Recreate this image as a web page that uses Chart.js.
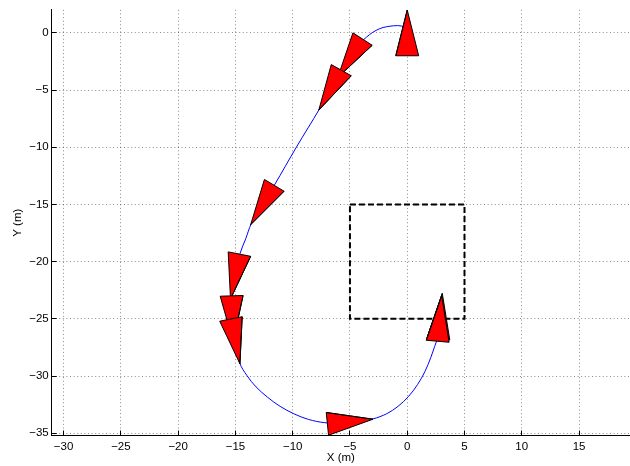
<!DOCTYPE html>
<html>
<head>
<meta charset="utf-8">
<script src="https://cdn.jsdelivr.net/npm/chart.js@4/dist/chart.umd.min.js"></script>
<style>
  html, body { margin: 0; padding: 0; background: #fff; }
  canvas { display: block; }
</style>
</head>
<body>
<canvas id="c" width="630" height="466"></canvas>
<script>
// Vehicle trajectory (m)
const pathX = [-0.10, -0.50, -1.20, -2.40, -3.55, -4.70, -5.76, -6.70, -7.65,
               -9.67, -11.61, -12.70, -13.61, -14.10, -14.60, -15.00, -15.30, -15.40, -15.10,
               -14.61, -14.00, -13.20, -12.20, -11.10, -9.90, -8.60, -7.20, -5.80, -4.40,
               -3.00, -1.80, -0.80, 0.10, 0.90, 1.55, 2.05, 2.40, 2.60];
const pathY = [0.40, 0.60, 0.62, 0.37, -0.36, -1.60, -3.26, -4.90, -6.63,
               -9.98, -13.33, -15.10, -16.67, -18.00, -19.30, -21.20, -23.00, -25.00, -27.00,
               -28.90, -29.95, -30.95, -31.85, -32.65, -33.30, -33.80, -34.08, -34.15, -34.00,
               -33.75, -33.30, -32.65, -31.80, -30.75, -29.60, -28.40, -27.40, -26.85];

// Vehicle poses: rear-centre of each marker (m) and heading (deg)
const poseX = [0.00, -3.90, -5.76, -11.61, -14.65, -15.33, -15.39, -6.97, 2.72, 2.66];
const poseY = [-2.00, -0.54, -3.26, -13.33, -19.34, -22.99, -25.01, -34.18, -26.76, -26.96];
const poseHeading = [90, -122.8, -119.3, -120.9, -101.2, -88.2, -78.7, 5.8, 85.1, 85.0];

// Target zone outline (m)
const zoneX = [-5, 5, 5, -5, -5];
const zoneY = [-15, -15, -25, -25, -15];

// Axis ticks
const xTicks = [-30, -25, -20, -15, -10, -5, 0, 5, 10, 15];
const yTicks = [0, -5, -10, -15, -20, -25, -30, -35];

// Marker shape (m)
const MARKER_LENGTH = 4;
const MARKER_WIDTH = 2;

function markerOutline(x, y, deg) {
  const a = deg * Math.PI / 180;
  const ux = Math.cos(a), uy = Math.sin(a);
  const nx = -uy, ny = ux, h = MARKER_WIDTH / 2;
  const left = { x: x + nx * h, y: y + ny * h };
  const right = { x: x - nx * h, y: y - ny * h };
  const tip = { x: x + ux * MARKER_LENGTH, y: y + uy * MARKER_LENGTH };
  // repeat the first corners so every join is mitred
  return [left, tip, right, left, tip];
}

const font = { family: '"Liberation Sans", Arial, Helvetica, sans-serif', size: 11.5 };
const fmt = v => (v < 0 ? '\u2212' + Math.abs(v) : String(v));

const datasets = [];
datasets.push({
  data: zoneX.map((x, i) => ({ x, y: zoneY[i] })),
  borderColor: '#000', borderWidth: 2, borderDash: [6, 3],
  pointRadius: 0, fill: false, tension: 0, order: 100
});
datasets.push({
  data: pathX.map((x, i) => ({ x, y: pathY[i] })),
  borderColor: '#0000ff', borderWidth: 1,
  pointRadius: 0, fill: false, tension: 0.35, order: 90
});
poseX.forEach((x, i) => {
  datasets.push({
    data: markerOutline(x, poseY[i], poseHeading[i]),
    borderColor: '#000', borderWidth: 1, backgroundColor: '#ff0000',
    borderJoinStyle: 'miter', pointRadius: 0, fill: 'shape', tension: 0,
    order: 50 - i
  });
});

const innerTicks = {
  id: 'innerTicks',
  afterDraw(chart) {
    const { ctx, chartArea: { left, bottom }, scales: { x, y } } = chart;
    const al = p => Math.round(p - 0.5) + 0.5;
    ctx.save();
    ctx.strokeStyle = '#000';
    ctx.lineWidth = 1;
    ctx.beginPath();
    xTicks.forEach(v => {
      const px = al(x.getPixelForValue(v));
      ctx.moveTo(px, bottom); ctx.lineTo(px, bottom - 5);
    });
    yTicks.forEach(v => {
      const py = al(y.getPixelForValue(v));
      ctx.moveTo(left, py); ctx.lineTo(left + 5, py);
    });
    ctx.stroke();
    ctx.restore();
  }
};

new Chart(document.getElementById('c'), {
  type: 'line',
  data: { datasets },
  options: {
    responsive: false,
    animation: false,
    devicePixelRatio: 1,
    layout: { padding: { left: 0, top: 9.3, right: 0, bottom: 0 } },
    plugins: { legend: { display: false }, tooltip: { enabled: false } },
    scales: {
      x: {
        type: 'linear', min: -31.04, max: 19.45,
        afterBuildTicks: s => { s.ticks = xTicks.map(v => ({ value: v })); },
        afterFit: s => { s.height = 30.5; },
        grid: { color: 'rgba(0,0,0,0.45)', lineWidth: 1, drawTicks: false },
        border: { display: true, color: '#000', width: 1, dash: [1, 2.6] },
        ticks: { color: '#000', font, padding: 4, maxRotation: 0, callback: fmt },
        title: { display: true, text: 'X (m)', color: '#000', font, padding: { top: 0, bottom: 1 } }
      },
      y: {
        type: 'linear', min: -35.2, max: 2.01,
        afterBuildTicks: s => { s.ticks = yTicks.map(v => ({ value: v })); },
        afterFit: s => { s.width = 51.7; },
        grid: { color: 'rgba(0,0,0,0.45)', lineWidth: 1, drawTicks: false },
        border: { display: true, color: '#000', width: 1, dash: [1, 2.6] },
        ticks: { color: '#000', font, padding: 3, callback: fmt },
        title: { display: true, text: 'Y (m)', color: '#000', font, padding: { top: 11, bottom: 0 } }
      }
    }
  },
  plugins: [innerTicks]
});
</script>
</body>
</html>
